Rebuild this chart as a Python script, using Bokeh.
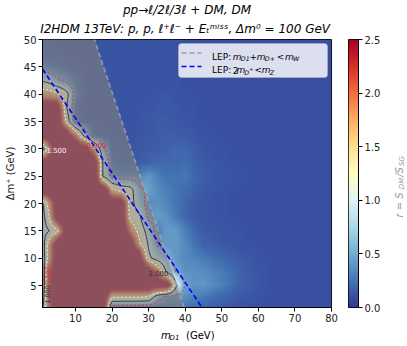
import numpy as np
from bokeh.plotting import figure
from bokeh.models import (LinearColorMapper, Label, BoxAnnotation, Range1d,
                          FixedTicker, PrintfTickFormatter, Title)
from bokeh.layouts import row, column
from bokeh.embed import file_html
from bokeh.resources import INLINE

# ------------------------------------------------------------------ data
m_D1 = [1, 2.5, 5, 7.5, 10, 12.5, 15, 17.5, 20, 22.5, 25, 27.5, 30, 32.5,
        35, 37.5, 40, 42.5, 45, 50, 55, 60, 65, 70, 75, 80]
dm_plus = [1, 3, 5, 7.5, 10, 12.5, 15, 17.5, 20, 22.5, 25, 27.5, 30, 32.5,
           35, 37.5, 40, 42.5, 45, 47.5, 50]

# r = S_DM / S_SG on the (m_D1, dm_plus) grid, one row per dm_plus value (bottom -> top)
r_dm01 = [0.9, 2.0, 3.0, 3.0, 3.0, 3.0, 3.0, 3.0, 0.25, 0.2, 0.2, 0.2, 0.2, 0.2, 0.22, 0.25, 0.25, 0.22, 0.2, 0.15, 0.12, 0.11, 0.1, 0.1, 0.1, 0.1]
r_dm03 = [0.6, 2.2, 3.0, 3.0, 3.0, 3.0, 3.0, 3.0, 1.6, 1.6, 1.6, 1.6, 1.5, 0.7, 0.42, 0.4, 0.38, 0.32, 0.28, 0.2, 0.14, 0.12, 0.11, 0.1, 0.1, 0.1]
r_dm05 = [0.3, 2.2, 3.0, 3.0, 3.0, 3.0, 3.0, 3.0, 3.0, 3.0, 3.0, 3.0, 3.0, 3.0, 3.0, 1.1, 0.45, 0.38, 0.4, 0.3, 0.18, 0.13, 0.11, 0.1, 0.1, 0.1]
r_dm075 = [0.3, 2.2, 3.0, 3.0, 3.0, 3.0, 3.0, 3.0, 3.0, 3.0, 3.0, 3.0, 3.0, 2.0, 0.9, 0.48, 0.38, 0.38, 0.36, 0.28, 0.18, 0.13, 0.11, 0.1, 0.1, 0.1]
r_dm10 = [0.6, 1.6, 3.0, 3.0, 3.0, 3.0, 3.0, 3.0, 3.0, 3.0, 3.0, 3.0, 1.1, 0.8, 0.55, 0.4, 0.35, 0.32, 0.28, 0.2, 0.15, 0.12, 0.11, 0.1, 0.1, 0.1]
r_dm125 = [0.7, 1.6, 3.0, 3.0, 3.0, 3.0, 3.0, 3.0, 3.0, 3.0, 3.0, 1.6, 0.95, 0.45, 0.4, 0.42, 0.35, 0.25, 0.18, 0.14, 0.12, 0.11, 0.1, 0.1, 0.1, 0.1]
r_dm15 = [0.8, 0.95, 1.3, 3.0, 3.0, 3.0, 3.0, 3.0, 3.0, 3.0, 2.0, 1.3, 0.8, 0.3, 0.42, 0.42, 0.3, 0.2, 0.15, 0.13, 0.12, 0.1, 0.1, 0.1, 0.1, 0.1]
r_dm175 = [0.8, 1.3, 3.0, 3.0, 3.0, 3.0, 3.0, 3.0, 3.0, 3.0, 1.3, 1.1, 0.4, 0.42, 0.38, 0.28, 0.2, 0.15, 0.13, 0.12, 0.11, 0.1, 0.1, 0.1, 0.1, 0.1]
r_dm20 = [0.9, 1.6, 3.0, 3.0, 3.0, 3.0, 3.0, 3.0, 3.0, 3.0, 1.2, 0.7, 0.35, 0.38, 0.32, 0.25, 0.2, 0.15, 0.13, 0.12, 0.11, 0.1, 0.1, 0.1, 0.1, 0.1]
r_dm225 = [3.0, 3.0, 3.0, 3.0, 3.0, 3.0, 3.0, 3.0, 1.6, 1.3, 1.2, 0.55, 0.45, 0.35, 0.3, 0.25, 0.22, 0.18, 0.14, 0.12, 0.11, 0.1, 0.1, 0.1, 0.1, 0.1]
r_dm25 = [3.0, 3.0, 3.0, 3.0, 3.0, 3.0, 3.0, 1.0, 0.35, 0.3, 0.3, 0.32, 0.4, 0.3, 0.24, 0.25, 0.26, 0.2, 0.16, 0.13, 0.12, 0.11, 0.1, 0.1, 0.1, 0.1]
r_dm275 = [3.0, 3.0, 3.0, 3.0, 3.0, 3.0, 3.0, 1.0, 0.2, 0.15, 0.15, 0.15, 0.18, 0.2, 0.2, 0.2, 0.22, 0.18, 0.14, 0.12, 0.11, 0.1, 0.1, 0.1, 0.1, 0.1]
r_dm30 = [0.6, 1.7, 3.0, 3.0, 3.0, 3.0, 1.8, 0.6, 0.15, 0.13, 0.13, 0.14, 0.15, 0.16, 0.18, 0.2, 0.2, 0.16, 0.13, 0.12, 0.11, 0.1, 0.1, 0.1, 0.1, 0.1]
r_dm325 = [3.0, 3.0, 3.0, 3.0, 2.0, 0.8, 0.15, 0.13, 0.12, 0.12, 0.12, 0.13, 0.14, 0.15, 0.16, 0.16, 0.15, 0.14, 0.12, 0.11, 0.1, 0.1, 0.1, 0.1, 0.1, 0.1]
r_dm35 = [3.0, 3.0, 3.0, 1.4, 0.2, 0.13, 0.12, 0.12, 0.12, 0.12, 0.12, 0.13, 0.14, 0.15, 0.15, 0.14, 0.13, 0.12, 0.11, 0.1, 0.1, 0.1, 0.1, 0.1, 0.1, 0.1]
r_dm375 = [3.0, 3.0, 3.0, 1.05, 0.15, 0.12, 0.12, 0.12, 0.12, 0.12, 0.12, 0.12, 0.13, 0.14, 0.14, 0.13, 0.12, 0.12, 0.11, 0.1, 0.1, 0.1, 0.1, 0.1, 0.1, 0.1]
r_dm40 = [1.8, 1.8, 1.6, 1.2, 0.3, 0.13, 0.12, 0.12, 0.12, 0.12, 0.12, 0.12, 0.12, 0.13, 0.13, 0.12, 0.12, 0.11, 0.11, 0.1, 0.1, 0.1, 0.1, 0.1, 0.1, 0.1]
r_dm425 = [0.95, 0.85, 0.55, 0.4, 0.2, 0.13, 0.12, 0.12, 0.12, 0.12, 0.12, 0.12, 0.12, 0.12, 0.12, 0.12, 0.11, 0.11, 0.11, 0.1, 0.1, 0.1, 0.1, 0.1, 0.1, 0.1]
r_dm45 = [0.3, 0.25, 0.2, 0.15, 0.13, 0.12, 0.12, 0.12, 0.12, 0.12, 0.12, 0.12, 0.12, 0.12, 0.12, 0.11, 0.11, 0.11, 0.11, 0.1, 0.1, 0.1, 0.1, 0.1, 0.1, 0.1]
r_dm475 = [0.14, 0.13, 0.13, 0.12, 0.12, 0.12, 0.12, 0.12, 0.12, 0.12, 0.12, 0.12, 0.12, 0.12, 0.12, 0.11, 0.11, 0.11, 0.11, 0.1, 0.1, 0.1, 0.1, 0.1, 0.1, 0.1]
r_dm50 = [0.13, 0.13, 0.12, 0.12, 0.12, 0.12, 0.12, 0.12, 0.12, 0.12, 0.12, 0.12, 0.12, 0.12, 0.12, 0.11, 0.11, 0.11, 0.11, 0.1, 0.1, 0.1, 0.1, 0.1, 0.1, 0.1]

r_grid = [r_dm01, r_dm03, r_dm05, r_dm075, r_dm10, r_dm125, r_dm15, r_dm175,
          r_dm20, r_dm225, r_dm25, r_dm275, r_dm30, r_dm325, r_dm35, r_dm375,
          r_dm40, r_dm425, r_dm45, r_dm475, r_dm50]

m_W = 80.4     # GeV, LEP: m_D1 + m_D+ < m_W
m_Z = 91.19    # GeV, LEP: 2 m_D+ < m_Z
contour_levels = [0.5, 1.0, 1.5]
x_ticks = [10, 20, 30, 40, 50, 60, 70, 80]
y_ticks = [5, 10, 15, 20, 25, 30, 35, 40, 45, 50]
cbar_ticks = [0.0, 0.5, 1.0, 1.5, 2.0, 2.5]
r_low, r_high = 0.0, 2.5
x_lim = (1, 80)
y_lim = (1, 50)

title_1 = "pp\u2192\u2113/2\u2113/3\u2113 + DM, DM"
title_2 = "I2HDM 13TeV:  p, p, \u2113\u207a\u2113\u207b + E\u209c\u1d50\u2071\u02e2\u02e2, \u0394m\u2070 = 100 GeV"
y_label = "\u0394m\u207a (GeV)"

# ------------------------------------------------------------------ style
FONT = "DejaVu Sans"
RDYLBU_R = ['#313695', '#4575b4', '#74add1', '#abd9e9', '#e0f3f8', '#ffffbf',
            '#fee090', '#fdae61', '#f46d43', '#d73027', '#a50026']


def make_palette(anchors, n=256):
    cols = np.array([[int(a[i:i + 2], 16) for i in (1, 3, 5)] for a in anchors], float)
    pos = np.linspace(0, 1, len(anchors))
    out = []
    for t in np.linspace(0, 1, n):
        rgb = [int(round(np.interp(t, pos, cols[:, k]))) for k in range(3)]
        out.append('#%02x%02x%02x' % tuple(rgb))
    return out


mapper = LinearColorMapper(palette=make_palette(RDYLBU_R), low=r_low, high=r_high)

# smooth (bilinear) rendering of the grid, as in the shaded original
R = np.array(r_grid, float)
xf = np.linspace(x_lim[0], x_lim[1], 317)
yf = np.linspace(y_lim[0], y_lim[1], 246)
tmp = np.array([np.interp(xf, m_D1, rr) for rr in R])
Z = np.array([np.interp(yf, dm_plus, tmp[:, j]) for j in range(len(xf))]).T

# page layout (page pixels): plot frame x 42..331, y 39..307; colour bar x 348..361
PAGE_W, PAGE_H = 407, 346
ROW_BOT = 325
FX0, FX1, FY0, FY1 = 42, 331, 39, 307
CB_X0, CB_X1 = 340, 383


def style_axis(ax):
    ax.major_label_text_font = FONT
    ax.major_label_text_font_size = "10px"
    ax.major_label_text_color = "#222222"
    ax.major_tick_out = 4
    ax.major_tick_in = 0
    ax.minor_tick_out = 0
    ax.minor_tick_in = 0
    ax.axis_line_color = "black"
    ax.major_tick_line_color = "black"
    ax.major_label_standoff = 2


def lab(fig, conv, px, py, text, size=12, style="normal", color="#000000",
        align="left", angle=0.0):
    x, y = conv(px, py)
    fig.add_layout(Label(x=x, y=y, text=text, text_font=FONT,
                         text_font_size=f"{size}px", text_font_style=style,
                         text_color=color, text_align=align,
                         text_baseline="alphabetic", angle=angle))


def page(px, py):
    return px, -py


def text_fig(x0, y0, x1, y1):
    f = figure(width=x1 - x0, height=y1 - y0, x_range=Range1d(x0, x1),
               y_range=Range1d(-y1, -y0), output_backend="svg",
               toolbar_location=None, title=None, x_axis_location=None,
               y_axis_location=None, min_border=0, frame_align=False)
    f.grid.visible = False
    f.outline_line_color = None
    f.background_fill_color = "white"
    f.border_fill_color = "white"
    return f


# ------------------------------------------------------------------ main plot
p = figure(width=CB_X0, height=ROW_BOT, x_range=Range1d(*x_lim), y_range=Range1d(*y_lim),
           output_backend="svg", toolbar_location=None, title=None, frame_align=False,
           min_border_left=FX0, min_border_right=CB_X0 - FX1,
           min_border_top=FY0, min_border_bottom=ROW_BOT - FY1)
p.grid.visible = False
p.outline_line_color = "black"
p.outline_line_width = 1
style_axis(p.xaxis[0])
style_axis(p.yaxis[0])
p.xaxis.ticker = FixedTicker(ticks=x_ticks)
p.yaxis.ticker = FixedTicker(ticks=y_ticks)
p.yaxis.axis_label = y_label
p.yaxis.axis_label_text_font = FONT
p.yaxis.axis_label_text_font_size = "10px"
p.yaxis.axis_label_text_font_style = "normal"
p.yaxis.axis_label_text_color = "#222222"
p.yaxis.axis_label_standoff = 5

p.add_layout(Title(text=title_2, align="center", text_font=FONT, text_font_size="12px",
                   text_font_style="italic", text_color="#000000", standoff=7), "above")
p.add_layout(Title(text=title_1, align="center", text_font=FONT, text_font_size="12px",
                   text_font_style="italic", text_color="#000000", standoff=0), "above")

p.image(image=[Z], x=x_lim[0], y=y_lim[0], dw=x_lim[1] - x_lim[0],
        dh=y_lim[1] - y_lim[0], color_mapper=mapper)

# LEP exclusion region (m_D1 + m_D+ < m_W  <=>  2 m_D1 + dm < m_W)
dm_edge = [y_lim[0], y_lim[1]]
p.harea(y=dm_edge, x1=[x_lim[0], x_lim[0]], x2=[(m_W - d) / 2 for d in dm_edge],
        fill_color="#808080", fill_alpha=0.62)

# contours
c_colors = ["#e3263a", "#303030", "#f4f4f0"]
c_dashes = ["2 2", "solid", "2 2"]
for lev, col, dsh in zip(contour_levels, c_colors, c_dashes):
    p.contour(x=xf, y=yf, z=Z, levels=[lev], line_color=col, line_dash=dsh,
              line_width=1.0)

# LEP lines
p.line(x=[(m_W - d) / 2 for d in dm_edge], y=dm_edge, line_color="#a8a8a8",
       line_dash="5 3", line_width=1.5, line_alpha=0.8)
z_pts = [x_lim[0], m_Z / 2 - y_lim[0]]
p.line(x=z_pts, y=[m_Z / 2 - v for v in z_pts], line_color="#0000ff",
       line_dash="5 3", line_width=1.6)


def conv_main(px, py):
    return (x_lim[0] + (px - FX0) * (x_lim[1] - x_lim[0]) / (FX1 - FX0),
            y_lim[0] + (FY1 - py) * (y_lim[1] - y_lim[0]) / (FY1 - FY0))


# contour labels
lab(p, conv_main, 96, 144, "0.500", 7, color="#e3263a", align="center")
lab(p, conv_main, 56, 149, "1.500", 7, color="#f4f4f0", align="center")
lab(p, conv_main, 158, 272, "1.000", 7, color="#303030", align="center")
lab(p, conv_main, 47, 275, "0.500", 6.5, color="#e3263a", align="center", angle=np.pi / 2)
lab(p, conv_main, 47, 294, "1.000", 6.5, color="#303030", align="center", angle=np.pi / 2)

# legend
x0, y0 = conv_main(178, 77)
x1, y1 = conv_main(327, 43)
p.add_layout(BoxAnnotation(left=x0, right=x1, bottom=y0, top=y1, fill_color="white",
                           fill_alpha=0.82, line_color="#cccccc", line_width=1,
                           border_radius=3))
lx0, ly0 = conv_main(181, 52.5)
lx1, _ = conv_main(201, 52.5)
p.line(x=[lx0, lx1], y=[ly0, ly0], line_color="#a0a0a0", line_dash="5 3",
       line_width=1.5, level="overlay")
_, ly1 = conv_main(181, 66)
p.line(x=[lx0, lx1], y=[ly1, ly1], line_color="#0000ff", line_dash="5 3",
       line_width=1.6, level="overlay")

LS = 9
SS = 6.3
b1, b2 = 56, 69.5
lab(p, conv_main, 211.5, b1, "LEP:", LS)
lab(p, conv_main, 232.3, b1, "m", LS, "italic")
lab(p, conv_main, 240.3, b1 + 2, "D1", SS, "italic")
lab(p, conv_main, 249, b1, "+", LS)
lab(p, conv_main, 256.3, b1, "m", LS, "italic")
lab(p, conv_main, 264.3, b1 + 2, "D+", SS, "italic")
lab(p, conv_main, 276.3, b1, "<", LS)
lab(p, conv_main, 284.5, b1, "m", LS, "italic")
lab(p, conv_main, 292.5, b1 + 2, "W", SS, "italic")

lab(p, conv_main, 211.5, b2, "LEP:", LS)
lab(p, conv_main, 232.3, b2, "2", LS)
lab(p, conv_main, 236, b2, "m", LS, "italic")
lab(p, conv_main, 243.8, b2 + 2, "D", SS, "italic")
lab(p, conv_main, 248.8, b2 - 1.5, "+", 4.8, "italic")
lab(p, conv_main, 254, b2, "<", LS)
lab(p, conv_main, 261.3, b2, "m", LS, "italic")
lab(p, conv_main, 269.3, b2 + 2, "Z", SS, "italic")

# ------------------------------------------------------------------ colour bar
pc = figure(width=CB_X1 - CB_X0, height=ROW_BOT, x_range=Range1d(0, 1), y_range=Range1d(r_low, r_high),
            output_backend="svg", toolbar_location=None, title=None, frame_align=False,
            x_axis_location=None, y_axis_location="right",
            min_border_left=348 - CB_X0, min_border_right=CB_X1 - 361,
            min_border_top=FY0, min_border_bottom=ROW_BOT - FY1)
pc.grid.visible = False
pc.outline_line_color = "black"
pc.outline_line_width = 1
grad = np.linspace(r_low, r_high, 256).reshape(-1, 1)
pc.image(image=[grad], x=0, y=r_low, dw=1, dh=r_high - r_low, color_mapper=mapper)
style_axis(pc.yaxis[0])
pc.yaxis.ticker = FixedTicker(ticks=cbar_ticks)
pc.yaxis.formatter = PrintfTickFormatter(format="%.1f")

# ------------------------------------------------------------------ text strips
t_cb = text_fig(CB_X1, 0, PAGE_W, ROW_BOT)
GREY = "#9a9a9a"
lab(t_cb, page, 399, 204.5, "r = S", 10, "italic", color=GREY, align="center", angle=np.pi / 2)
lab(t_cb, page, 401.5, 183, "DM", 7, "italic", color=GREY, align="center", angle=np.pi / 2)
lab(t_cb, page, 399, 171.5, "/S", 10, "italic", color=GREY, align="center", angle=np.pi / 2)
lab(t_cb, page, 401.5, 160.5, "SG", 7, "italic", color=GREY, align="center", angle=np.pi / 2)

t_bot = text_fig(0, ROW_BOT, PAGE_W, PAGE_H)
lab(t_bot, page, 160.5, 335, "m", 10, "italic")
lab(t_bot, page, 169, 337, "D1", 7, "italic")
lab(t_bot, page, 185.5, 335, "(GeV)", 10)

layout = column(row(p, pc, t_cb), t_bot)
open("out.html", "w").write(file_html(layout, INLINE))
